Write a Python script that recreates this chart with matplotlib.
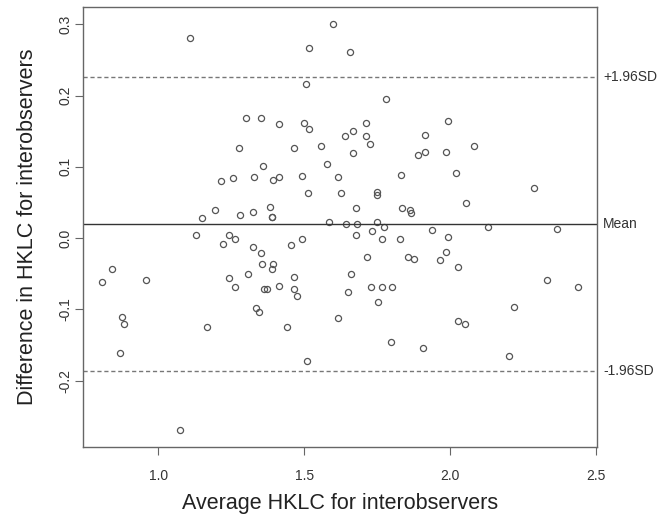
import matplotlib
matplotlib.use("Agg")
import matplotlib.pyplot as plt

plt.rcParams['font.family'] = ['Liberation Sans', 'DejaVu Sans']

# Bland-Altman data
avg_hklc = [
    1.107, 1.301, 1.350, 1.413, 1.278, 1.358, 1.214, 1.257, 1.327, 1.393,
    1.415, 1.195, 1.281, 1.325, 1.381, 1.391, 1.388, 1.150, 1.130, 1.243,
    1.220, 1.262, 1.323, 1.353, 1.355, 1.393, 1.388, 1.308, 0.842, 0.807,
    0.959, 1.241, 1.262, 1.362, 1.373, 1.413, 1.335, 1.344, 0.877, 0.881,
    1.168, 0.870, 1.073,
    1.600, 1.517, 1.657, 1.505, 1.781, 1.499, 1.517, 1.711, 1.668, 1.641,
    1.711, 1.725, 1.558, 1.465, 1.668, 1.992, 1.915, 1.890, 1.915, 1.987,
    2.082, 2.020, 1.577, 1.493, 1.615, 1.830, 1.513, 1.626, 1.750, 1.748,
    2.053, 1.676, 1.836, 1.862, 1.866,
    1.583, 1.642, 1.680, 1.750, 1.773, 1.678, 1.733, 1.766, 1.827, 1.939,
    1.992, 1.984, 1.966, 2.028, 1.856, 1.877, 1.714, 1.493, 1.453, 1.464,
    1.660, 1.464, 1.475, 1.650, 1.727, 1.768, 1.801, 1.753, 1.615, 1.440,
    2.027, 2.050, 1.797, 1.906, 1.509,
    2.286, 2.129, 2.365, 2.332, 2.438, 2.219, 2.202,
]
diff_hklc = [
    0.281, 0.168, 0.169, 0.160, 0.126, 0.101, 0.080, 0.084, 0.086, 0.082,
    0.086, 0.039, 0.033, 0.037, 0.044, 0.030, 0.029, 0.028, 0.004, 0.005,
    -0.008, -0.001, -0.013, -0.021, -0.037, -0.037, -0.044, -0.050, -0.044, -0.061,
    -0.059, -0.056, -0.069, -0.071, -0.072, -0.067, -0.098, -0.104, -0.111, -0.120,
    -0.125, -0.161, -0.270,
    0.301, 0.267, 0.261, 0.216, 0.196, 0.162, 0.153, 0.161, 0.151, 0.143,
    0.143, 0.132, 0.130, 0.126, 0.119, 0.164, 0.145, 0.117, 0.121, 0.121,
    0.129, 0.092, 0.104, 0.087, 0.086, 0.088, 0.063, 0.064, 0.065, 0.061,
    0.050, 0.042, 0.042, 0.039, 0.035,
    0.023, 0.020, 0.020, 0.023, 0.015, 0.005, 0.010, -0.001, -0.001, 0.011,
    0.002, -0.019, -0.030, -0.040, -0.027, -0.029, -0.026, -0.001, -0.010, -0.055,
    -0.050, -0.071, -0.081, -0.075, -0.069, -0.069, -0.069, -0.090, -0.112, -0.125,
    -0.117, -0.120, -0.146, -0.154, -0.172,
    0.071, 0.015, 0.013, -0.059, -0.069, -0.097, -0.165,
]

mean_diff = 0.020
upper_loa = 0.226
lower_loa = -0.1865
line_labels = ['+1.96SD', 'Mean', '-1.96SD']

x_ticks = [1.0, 1.5, 2.0, 2.5]
y_ticks = [-0.2, -0.1, 0.0, 0.1, 0.2, 0.3]

fig = plt.figure(figsize=(6.72, 5.18), dpi=100)
ax = fig.add_axes([0.1235, 0.1376, 0.765, 0.848])

ax.plot(avg_hklc, diff_hklc, 'o', mfc='none', mec='#555555', ms=4.4, mew=0.9)
ax.margins(0.04)

ax.axhline(mean_diff, color='#333333', lw=1.0)
ax.axhline(upper_loa, color='#777777', lw=1.0, ls=(0, (3, 2)))
ax.axhline(lower_loa, color='#777777', lw=1.0, ls=(0, (3, 2)))

trans = ax.get_yaxis_transform()
for val, lab in zip([upper_loa, mean_diff, lower_loa], line_labels):
    ax.text(1.012, val, lab, transform=trans, ha='left', va='center',
            fontsize=10, color='#333333', clip_on=False)

ax.set_xticks(x_ticks)
ax.set_xticklabels([f'{v:.1f}' for v in x_ticks])
ax.set_yticks(y_ticks)
ax.set_yticklabels([f'{v:.1f}' for v in y_ticks], rotation=90, va='center')

ax.tick_params(direction='out', length=5.8, width=0.8, color='#666666',
               labelsize=10, labelcolor='#333333')
ax.tick_params(axis='x', pad=10.5)
ax.tick_params(axis='y', pad=1.5)

for sp in ax.spines.values():
    sp.set_color('#666666')
    sp.set_linewidth(1.0)

ax.set_xlabel('Average HKLC for interobservers', fontsize=15.5, color='#222222', labelpad=7)
ax.set_ylabel('Difference in HKLC for interobservers', fontsize=15.5, color='#222222', labelpad=15)

fig.savefig('out.png', dpi=100)
